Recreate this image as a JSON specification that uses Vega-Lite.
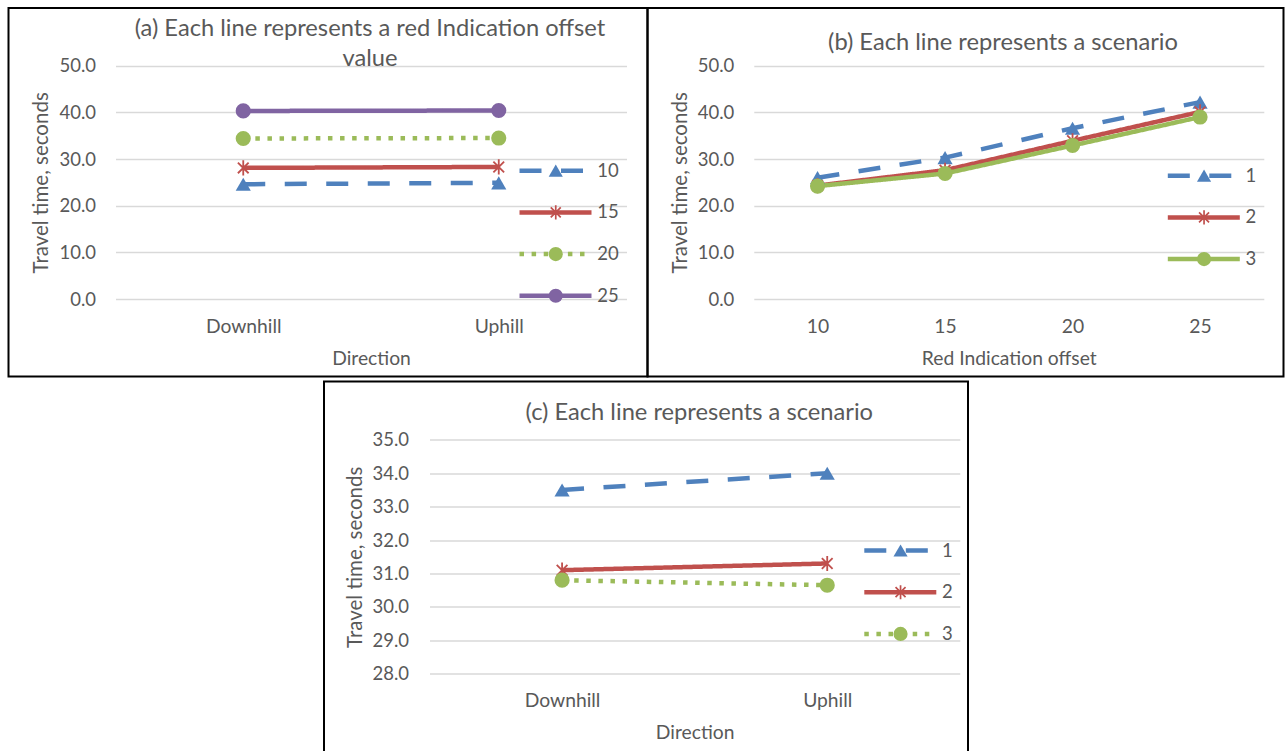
{
  "$schema": "https://vega.github.io/schema/vega-lite/v6.json",
  "background": "white",
  "padding": {"left": 7.5, "top": 7, "right": 0, "bottom": 0},
  "datasets": {
    "a": [
      {"Offset": "10", "Direction": "Downhill", "Time": 24.6},
      {"Offset": "10", "Direction": "Uphill", "Time": 24.9},
      {"Offset": "15", "Direction": "Downhill", "Time": 28.1},
      {"Offset": "15", "Direction": "Uphill", "Time": 28.3},
      {"Offset": "20", "Direction": "Downhill", "Time": 34.4},
      {"Offset": "20", "Direction": "Uphill", "Time": 34.5},
      {"Offset": "25", "Direction": "Downhill", "Time": 40.3},
      {"Offset": "25", "Direction": "Uphill", "Time": 40.4}
    ],
    "b": [
      {"Scenario": "1", "Offset": "10", "Time": 26.0},
      {"Scenario": "1", "Offset": "15", "Time": 30.3},
      {"Scenario": "1", "Offset": "20", "Time": 36.6},
      {"Scenario": "1", "Offset": "25", "Time": 42.2},
      {"Scenario": "2", "Offset": "10", "Time": 24.3},
      {"Scenario": "2", "Offset": "15", "Time": 27.6},
      {"Scenario": "2", "Offset": "20", "Time": 33.9},
      {"Scenario": "2", "Offset": "25", "Time": 40.1},
      {"Scenario": "3", "Offset": "10", "Time": 24.2},
      {"Scenario": "3", "Offset": "15", "Time": 26.9},
      {"Scenario": "3", "Offset": "20", "Time": 32.9},
      {"Scenario": "3", "Offset": "25", "Time": 39.0}
    ],
    "c": [
      {"Scenario": "1", "Direction": "Downhill", "Time": 33.5},
      {"Scenario": "1", "Direction": "Uphill", "Time": 34.0},
      {"Scenario": "2", "Direction": "Downhill", "Time": 31.1},
      {"Scenario": "2", "Direction": "Uphill", "Time": 31.3},
      {"Scenario": "3", "Direction": "Downhill", "Time": 30.8},
      {"Scenario": "3", "Direction": "Uphill", "Time": 30.65}
    ]
  },
  "vconcat": [
    {
      "hconcat": [
        {
          "width": 639,
          "height": 368.5,
          "title": {"text": ["(a) Each line represents a red Indication offset", "value"], "dx": 42, "offset": -62.5},
          "data": {"name": "a"},
          "encoding": {
            "x": {"field": "Direction", "type": "nominal",
              "scale": {"type": "point", "range": [107, 618], "padding": 0.5},
              "axis": {"orient": "bottom", "offset": -77.5, "labelPadding": 27.7, "labelBaseline": "middle", "labelAngle": 0, "labelFontSize": 19.3, "titleFontSize": 19.3, "title": "Direction", "titleY": 59, "titleBaseline": "middle", "grid": false}},
            "y": {"field": "Time", "type": "quantitative",
              "scale": {"domain": [0, 50], "range": [291, 57.7], "nice": false, "zero": false},
              "axis": {"values": [0, 10, 20, 30, 40, 50], "format": ".1f", "offset": -91, "labelPadding": 4, "grid": true, "title": "Travel time, seconds", "titleFontSize": 20.5, "titleX": -58.2, "titleBaseline": "middle"}}
          },
          "layer": [
            {
              "mark": {"type": "line", "strokeWidth": 4.5, "strokeCap": "butt", "strokeJoin": "round"},
              "encoding": {
                "stroke": {"field": "Offset", "type": "nominal",
                  "scale": {"domain": ["10", "15", "20", "25"], "range": ["#4F81BD", "#C0504D", "#9BBB59", "#8064A2"]},
                  "legend": {"orient": "none", "legendX": 508.5, "legendY": 152.7, "title": null, "symbolType": "stroke", "symbolSize": 5184, "symbolStrokeWidth": 4.5, "clipHeight": 20, "rowPadding": 21.7, "labelOffset": 3.2}},
                "strokeDash": {"field": "Offset", "type": "nominal",
                  "scale": {"domain": ["10", "15", "20", "25"], "range": [[22, 19.5], [1, 0], [4.5, 7.6], [1, 0]]},
                  "legend": {"orient": "none", "legendX": 508.5, "legendY": 152.7, "title": null, "symbolType": "stroke", "symbolSize": 5184, "symbolStrokeWidth": 4.5, "clipHeight": 20, "rowPadding": 21.7, "labelOffset": 3.2}}
              }
            },
            {
              "mark": {"type": "point", "filled": true, "size": 230, "opacity": 1},
              "encoding": {
                "color": {"field": "Offset", "type": "nominal",
                  "scale": {"range": ["#4F81BD", "#C0504D", "#9BBB59", "#8064A2"]},
                  "legend": {"orient": "none", "legendX": 508.5, "legendY": 152.7, "title": null, "symbolSize": 200, "symbolOffset": 29.5, "clipHeight": 20, "rowPadding": 21.7, "labelOpacity": 0, "symbolOpacity": 1}},
                "shape": {"field": "Offset", "type": "nominal",
                  "scale": {"range": ["triangle-up", "M-0.12,-1L0.12,-1L0.12,1L-0.12,1ZM-0.622,-0.792L0.792,0.622L0.622,0.792L-0.792,-0.622ZM-0.792,0.622L0.622,-0.792L0.792,-0.622L-0.622,0.792Z", "circle", "circle"]},
                  "legend": {"orient": "none", "legendX": 508.5, "legendY": 152.7, "title": null, "symbolSize": 200, "symbolOffset": 29.5, "clipHeight": 20, "rowPadding": 21.7, "labelOpacity": 0, "symbolOpacity": 1}}
              }
            }
          ]
        },
        {
          "width": 636,
          "height": 368.5,
          "title": {"text": "(b) Each line represents a scenario", "dx": 37.5, "offset": -46.5},
          "data": {"name": "b"},
          "encoding": {
            "x": {"field": "Offset", "type": "nominal",
              "scale": {"type": "point", "range": [106.3, 616.3], "padding": 0.5},
              "axis": {"orient": "bottom", "offset": -77.5, "labelPadding": 27.5, "labelBaseline": "middle", "labelAngle": 0, "labelFontSize": 19.3, "titleFontSize": 19.3, "title": "Red Indication offset", "titleY": 59, "titleBaseline": "middle", "grid": false}},
            "y": {"field": "Time", "type": "quantitative",
              "scale": {"domain": [0, 50], "range": [291, 57.7], "nice": false, "zero": false},
              "axis": {"values": [0, 10, 20, 30, 40, 50], "format": ".1f", "offset": -90, "labelPadding": 3.7, "grid": true, "title": "Travel time, seconds", "titleFontSize": 20.5, "titleX": -57.5, "titleBaseline": "middle"}}
          },
          "layer": [
            {
              "mark": {"type": "line", "strokeWidth": 4.5, "strokeCap": "butt", "strokeJoin": "round"},
              "encoding": {
                "stroke": {"field": "Scenario", "type": "nominal",
                  "scale": {"domain": ["1", "2", "3"], "range": ["#4F81BD", "#C0504D", "#9BBB59"]},
                  "legend": {"orient": "none", "legendX": 517.8, "legendY": 157.7, "title": null, "symbolType": "stroke", "symbolSize": 5184, "symbolStrokeWidth": 4.5, "clipHeight": 20, "rowPadding": 21.7, "labelOffset": 3.2}},
                "strokeDash": {"field": "Scenario", "type": "nominal",
                  "scale": {"domain": ["1", "2", "3"], "range": [[22, 19.5], [1, 0], [1, 0]]},
                  "legend": {"orient": "none", "legendX": 517.8, "legendY": 157.7, "title": null, "symbolType": "stroke", "symbolSize": 5184, "symbolStrokeWidth": 4.5, "clipHeight": 20, "rowPadding": 21.7, "labelOffset": 3.2}}
              }
            },
            {
              "mark": {"type": "point", "filled": true, "size": 230, "opacity": 1},
              "encoding": {
                "color": {"field": "Scenario", "type": "nominal",
                  "scale": {"range": ["#4F81BD", "#C0504D", "#9BBB59"]},
                  "legend": {"orient": "none", "legendX": 517.8, "legendY": 157.7, "title": null, "symbolSize": 200, "symbolOffset": 29.5, "clipHeight": 20, "rowPadding": 21.7, "labelOpacity": 0, "symbolOpacity": 1}},
                "shape": {"field": "Scenario", "type": "nominal",
                  "scale": {"range": ["triangle-up", "M-0.12,-1L0.12,-1L0.12,1L-0.12,1ZM-0.622,-0.792L0.792,0.622L0.622,0.792L-0.792,-0.622ZM-0.792,0.622L0.622,-0.792L0.792,-0.622L-0.622,0.792Z", "circle"]},
                  "legend": {"orient": "none", "legendX": 517.8, "legendY": 157.7, "title": null, "symbolSize": 200, "symbolOffset": 29.5, "clipHeight": 20, "rowPadding": 21.7, "labelOpacity": 0, "symbolOpacity": 1}}
              }
            }
          ]
        }
      ],
      "spacing": 0,
      "bounds": "flush",
      "resolve": {
        "scale": {"color": "independent", "shape": "independent", "stroke": "independent", "strokeDash": "independent"},
        "legend": {"color": "independent", "shape": "independent", "stroke": "independent", "strokeDash": "independent"}
      }
    },
    {
      "width": 644,
      "height": 372,
      "title": {"text": "(c) Each line represents a scenario", "dx": 53.3, "offset": -43.5},
      "data": {"name": "c"},
      "encoding": {
        "x": {"field": "Direction", "type": "nominal",
          "scale": {"type": "point", "range": [105.5, 635.8], "padding": 0.5},
          "axis": {"orient": "bottom", "offset": -79.7, "labelPadding": 26.7, "labelBaseline": "middle", "labelAngle": 0, "labelFontSize": 19.3, "titleFontSize": 19.3, "title": "Direction", "titleY": 59, "titleBaseline": "middle", "grid": false}},
        "y": {"field": "Time", "type": "quantitative",
          "scale": {"domain": [28, 35], "range": [292.3, 58.3], "nice": false, "zero": false},
          "axis": {"values": [28, 29, 30, 31, 32, 33, 34, 35], "format": ".1f", "offset": -89, "labelPadding": 4.5, "grid": true, "title": "Travel time, seconds", "titleFontSize": 20.5, "titleX": -57.1, "titleBaseline": "middle"}}
      },
      "layer": [
        {
          "mark": {"type": "line", "strokeWidth": 4.5, "strokeCap": "butt", "strokeJoin": "round"},
          "encoding": {
            "stroke": {"field": "Scenario", "type": "nominal",
              "scale": {"domain": ["1", "2", "3"], "range": ["#4F81BD", "#C0504D", "#9BBB59"]},
              "legend": {"orient": "none", "legendX": 537.8, "legendY": 159, "title": null, "symbolType": "stroke", "symbolSize": 5184, "symbolStrokeWidth": 4.5, "clipHeight": 20, "rowPadding": 21.7, "labelOffset": 3.2}},
            "strokeDash": {"field": "Scenario", "type": "nominal",
              "scale": {"domain": ["1", "2", "3"], "range": [[22, 19.5], [1, 0], [4.5, 7.6]]},
              "legend": {"orient": "none", "legendX": 537.8, "legendY": 159, "title": null, "symbolType": "stroke", "symbolSize": 5184, "symbolStrokeWidth": 4.5, "clipHeight": 20, "rowPadding": 21.7, "labelOffset": 3.2}}
          }
        },
        {
          "mark": {"type": "point", "filled": true, "size": 230, "opacity": 1},
          "encoding": {
            "color": {"field": "Scenario", "type": "nominal",
              "scale": {"range": ["#4F81BD", "#C0504D", "#9BBB59"]},
              "legend": {"orient": "none", "legendX": 537.8, "legendY": 159, "title": null, "symbolSize": 200, "symbolOffset": 29.5, "clipHeight": 20, "rowPadding": 21.7, "labelOpacity": 0, "symbolOpacity": 1}},
            "shape": {"field": "Scenario", "type": "nominal",
              "scale": {"range": ["triangle-up", "M-0.12,-1L0.12,-1L0.12,1L-0.12,1ZM-0.622,-0.792L0.792,0.622L0.622,0.792L-0.792,-0.622ZM-0.792,0.622L0.622,-0.792L0.792,-0.622L-0.622,0.792Z", "circle"]},
              "legend": {"orient": "none", "legendX": 537.8, "legendY": 159, "title": null, "symbolSize": 200, "symbolOffset": 29.5, "clipHeight": 20, "rowPadding": 21.7, "labelOpacity": 0, "symbolOpacity": 1}}
          }
        }
      ]
    }
  ],
  "spacing": 2.5,
  "center": true,
  "resolve": {
    "scale": {"color": "independent", "shape": "independent", "stroke": "independent", "strokeDash": "independent"},
    "legend": {"color": "independent", "shape": "independent", "stroke": "independent", "strokeDash": "independent"}
  },
  "config": {
    "view": {"stroke": "black", "strokeWidth": 2},
    "font": "Lato",
    "axis": {"labelFont": "Lato", "titleFont": "Lato", "labelColor": "#595959", "titleColor": "#595959", "labelFontSize": 18.5, "titleFontSize": 19.3, "titleFontWeight": "normal", "domain": false, "ticks": false, "gridColor": "#D9D9D9", "gridWidth": 1.5},
    "legend": {"labelFont": "Lato", "labelFontSize": 18.5, "labelColor": "#595959", "padding": 0},
    "title": {"font": "Lato", "fontSize": 23.7, "fontWeight": "normal", "color": "#595959", "anchor": "middle", "frame": "group", "baseline": "top", "lineHeight": 30}
  }
}
